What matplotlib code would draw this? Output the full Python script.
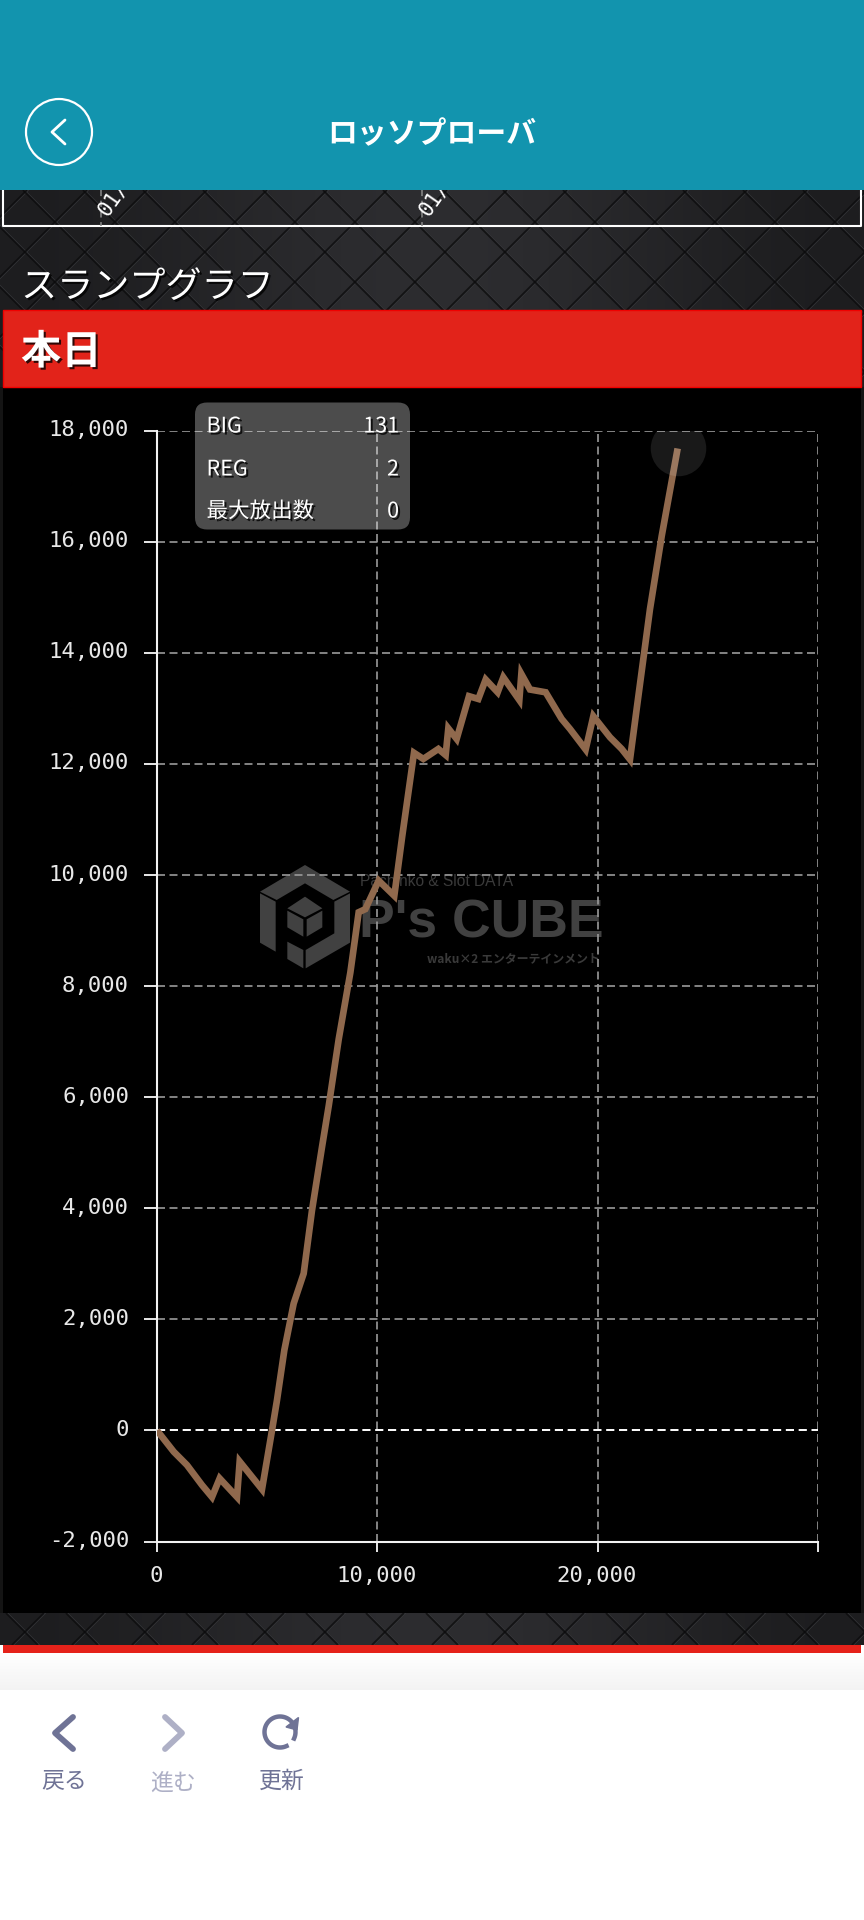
import numpy as np
from matplotlib import pyplot as plt
from matplotlib import patheffects as pe
from matplotlib.collections import LineCollection
from matplotlib.patches import Rectangle, FancyBboxPatch, Polygon, Circle
from matplotlib.ticker import FuncFormatter
from matplotlib.transforms import ScaledTranslation

plt.rcParams['font.family'] = ['Noto Sans CJK JP', 'DejaVu Sans']

# Slump graph
games = [0, 760, 1361, 2042, 2496, 2844, 3631, 3752, 4765, 5219, 5446, 5779, 6203, 6657,
         7035, 7489, 7795, 8248, 8776, 9154, 9456, 10060, 10770, 11130, 11664, 12088,
         12769, 13101, 13222, 13600, 14160, 14584, 14917, 15461, 15718, 16445, 16536,
         16929, 17640, 18366, 18744, 19455, 19803, 20560, 21089, 21467, 21770, 22073,
         22375, 22905, 23630]
medals = [0, -384, -624, -984, -1200, -864, -1200, -560, -1060, 0, 545, 1445, 2285, 2825,
          3964, 5103, 5846, 7046, 8246, 9330, 9386, 9900, 9626, 10700, 12200, 12090,
          12270, 12160, 12640, 12450, 13220, 13170, 13520, 13290, 13560, 13150, 13620,
          13340, 13290, 12810, 12630, 12260, 12860, 12480, 12270, 12080, 12990, 13890,
          14790, 16100, 17680]

x_ticks = [0, 10000, 20000, 30000]
x_tick_labels = ['0', '10,000', '20,000', '']
y_ticks = [-2000, 0, 2000, 4000, 6000, 8000, 10000, 12000, 14000, 16000, 18000]

tooltip_names = ['BIG', 'REG', '最大放出数']
tooltip_values = ['131', '2', '0']

W, H = 864, 1920
MONO = 'DejaVu Sans Mono'
LINE_COLOR = '#90694d'
NAV_COLOR = '#6f7396'
NAV_OFF = '#aeb0c6'
shadow = [pe.withSimplePatchShadow(offset=(1.5, -1.5), shadow_rgbFace='k', alpha=0.8)]


def pixel_axes(fig, zorder):
    # full figure axes in screen pixels, y going down
    a = fig.add_axes([0, 0, 1, 1], zorder=zorder)
    a.patch.set_alpha(0)
    a.set_axis_off()
    return a


def finish_pixels(a):
    a.set_xlim(0, W)
    a.set_ylim(H, 0)


def draw_texture(a, top, bottom):
    grad = 0.115 + 0.06 * np.sin(np.linspace(0, np.pi, 400)) ** 2
    img = np.stack([grad, grad, grad * 1.07], axis=1)[None, :, :]
    a.imshow(np.clip(img, 0, 1), extent=[0, W, bottom, top], aspect='auto', zorder=0)
    dark, light = [], []
    for c in range(-1800, 2800, 60):
        # x+y and x-y families of the diamond lattice
        dark.append([(c + 37 - top, top), (c + 37 - bottom, bottom)])
        dark.append([(c + 13 + top, top), (c + 13 + bottom, bottom)])
        light.append([(c + 37 - top + 1.5, top), (c + 37 - bottom + 1.5, bottom)])
        light.append([(c + 13 + top + 1.5, top), (c + 13 + bottom + 1.5, bottom)])
    clip = Rectangle((0, top), W, bottom - top, transform=a.transData)
    lc2 = LineCollection(light, colors='#3c3d41', linewidths=0.8, alpha=0.8, zorder=1)
    lc1 = LineCollection(dark, colors='#0b0b0c', linewidths=1.4, alpha=0.75, zorder=1.1)
    for lc in (lc2, lc1):
        a.add_collection(lc)
        lc.set_clip_path(clip)


def draw_watermark(a):
    pieces = [
        [(60, 155), (195, 75), (330, 155), (280, 180), (195, 130), (110, 180)],
        [(60, 160), (107, 185), (107, 335), (60, 308)],
        [(330, 160), (330, 308), (197, 385), (197, 330), (283, 280), (283, 185)],
        [(142, 305), (190, 330), (190, 385), (142, 357)],
        [(142, 205), (195, 170), (247, 205), (195, 232)],
        [(142, 212), (190, 238), (190, 290), (142, 262)],
        [(200, 238), (247, 212), (247, 262), (200, 290)],
    ]
    for p in pieces:
        pts = [(240 + x / 3, 840 + y / 3) for x, y in p]
        a.add_patch(Polygon(pts, closed=True, fc='#414141', ec='none', zorder=3))
    a.text(359, 923, "P's CUBE", family='Liberation Sans', weight='bold', fontsize=38.5,
           color='#414141', va='center', ha='left', zorder=3)
    a.text(360, 881, 'Pachinko & Slot DATA', family='Liberation Sans', fontsize=11.2,
           color='#3a3a3a', va='center', ha='left', zorder=3)
    a.text(427, 959, 'waku×2 エンターテインメント', fontsize=8.6, color='#3a3a3a',
           va='center', ha='left', zorder=3, weight='bold')


fig = plt.figure(figsize=(W / 100, H / 100), dpi=100, facecolor='white')

# page behind the chart
bg = pixel_axes(fig, 0)
draw_texture(bg, 190, 387)
draw_texture(bg, 1613, 1645)
bg.add_patch(Rectangle((3, 387), 858, 1226, fc='black', ec='none', zorder=2))
bg.add_patch(Rectangle((0, 387), 3, 1226, fc='#141414', ec='none', zorder=2))
bg.add_patch(Rectangle((861, 387), 3, 1226, fc='#141414', ec='none', zorder=2))
draw_watermark(bg)
finish_pixels(bg)

# the slump graph itself
ax = fig.add_axes([157 / W, 1 - 1541.5 / H, 661 / W, 1110.8 / H], zorder=1)
ax.patch.set_alpha(0)
ax.set_xlim(0, 30000)
ax.set_ylim(-2000, 18000)
ax.set_xticks(x_ticks)
ax.set_xticklabels(x_tick_labels)
ax.set_yticks(y_ticks)
ax.yaxis.set_major_formatter(FuncFormatter(lambda v, _: f'{int(v):,}'))
for s in ('top', 'right'):
    ax.spines[s].set_visible(False)
for s in ('left', 'bottom'):
    ax.spines[s].set_color('#f2f2f2')
    ax.spines[s].set_linewidth(1.5)
ax.tick_params(axis='x', colors='#e8e8e8', length=7.5, width=1.4, pad=12, labelsize=16)
ax.tick_params(axis='y', colors='#e8e8e8', length=9.5, width=1.4, pad=10, labelsize=16)
nudge = ScaledTranslation(-1 / 100, 2.5 / 100, fig.dpi_scale_trans)
for t in ax.get_xticklabels() + ax.get_yticklabels():
    t.set_family(MONO)
    t.set_transform(t.get_transform() + nudge)
ax.grid(True, color='#9a9a9a', linewidth=1.2, linestyle=(0, (4.8, 2.7)))
ax.yaxis.get_gridlines()[1].set_visible(False)
ax.axhline(0, color='white', linewidth=1.4, linestyle=(0, (4.2, 2.4)), zorder=2)
ax.plot(games, medals, color=LINE_COLOR, linewidth=4.8, solid_joinstyle='miter',
        solid_capstyle='butt', zorder=3)
ax.scatter(games[-1], medals[-1], s=1600, color='white', alpha=0.1, linewidths=0, zorder=4)

# everything drawn over the chart
fg = pixel_axes(fig, 2)
fg.add_patch(Rectangle((0, 0), W, 190, fc='#1294ae', ec='none', zorder=5))
fg.add_patch(Circle((59, 132), 33, fc='none', ec='white', lw=1.6, zorder=6))
fg.plot([65, 52, 65], [120, 132, 144], color='white', lw=2, zorder=6,
        solid_capstyle='round', solid_joinstyle='round')
fg.text(432, 134.5, 'ロッソプローバ', color='white', fontsize=21.5, weight='bold',
        ha='center', va='center', zorder=6)

# bottom of the chart above, scrolled under the header
fg.plot([3, 3, 861, 861], [190, 226, 226, 190], color='white', lw=1.5, zorder=2)
for x0 in (101, 422):
    fg.plot([x0, x0], [190, 226], color='#8a8a8a', lw=1.1, linestyle=(0, (4, 3)), zorder=2)
    fg.text(x0 + 1, 214, '01/23', color='white', family=MONO, fontsize=15, rotation=55,
            rotation_mode='anchor', ha='left', va='center', zorder=2)

fg.text(21, 287.5, 'スランプグラフ', color='white', fontsize=26, ha='left', va='center',
        path_effects=shadow, zorder=6)
fg.add_patch(Rectangle((3, 310), 858, 77, fc='#e2231a', ec='#f00000', lw=1, zorder=6))
fg.text(21, 352.5, '本日', color='white', fontsize=29, weight='bold', ha='left', va='center',
        path_effects=shadow, zorder=7)

# tooltip
fg.add_patch(FancyBboxPatch((205, 412.5), 195, 107, boxstyle='round,pad=10,rounding_size=12',
                            fc='white', ec='none', alpha=0.3, zorder=6))
for y0, name, value in zip((426.5, 469.5, 511.5), tooltip_names, tooltip_values):
    fg.text(206.5, y0, name, color='white', fontsize=15.5, ha='left', va='center',
            path_effects=shadow, zorder=7)
    fg.text(399, y0, value, color='white', fontsize=15.5, ha='right', va='center',
            path_effects=shadow, zorder=7)

# browser bar at the bottom
fg.add_patch(Rectangle((3, 1645), 858, 8, fc='#e5221a', ec='none', zorder=6))
fg.add_patch(Rectangle((0, 1653), W, H - 1653, fc='white', ec='none', zorder=5))
shade = np.linspace(1.0, 0.955, 40)[:, None, None] * np.ones((40, 1, 3))
fg.imshow(shade, extent=[0, W, 1690, 1653], aspect='auto', zorder=6)
fg.plot([73, 55, 73], [1717, 1733, 1749], color=NAV_COLOR, lw=4.2, zorder=7,
        solid_capstyle='round', solid_joinstyle='round')
fg.plot([165, 182, 165], [1717, 1733, 1749], color=NAV_OFF, lw=4.2, zorder=7,
        solid_capstyle='round', solid_joinstyle='round')
t = np.radians(np.linspace(-25, 295, 80))
fg.plot(280 + 15.5 * np.cos(t), 1732 - 15.5 * np.sin(t), color=NAV_COLOR, lw=3.2, zorder=7)
fg.add_patch(Polygon([(298.5, 1717.5), (297, 1730), (286, 1727)], closed=True, fc=NAV_COLOR,
                     ec=NAV_COLOR, lw=1, zorder=7))
fg.text(64, 1781.5, '戻る', color=NAV_COLOR, fontsize=16.5, ha='center', va='center', zorder=7)
fg.text(173, 1783.5, '進む', color=NAV_OFF, fontsize=16.5, ha='center', va='center', zorder=7)
fg.text(282, 1781.5, '更新', color=NAV_COLOR, fontsize=16.5, ha='center', va='center', zorder=7)
finish_pixels(fg)

fig.savefig('out.png', dpi=100, facecolor='white')
